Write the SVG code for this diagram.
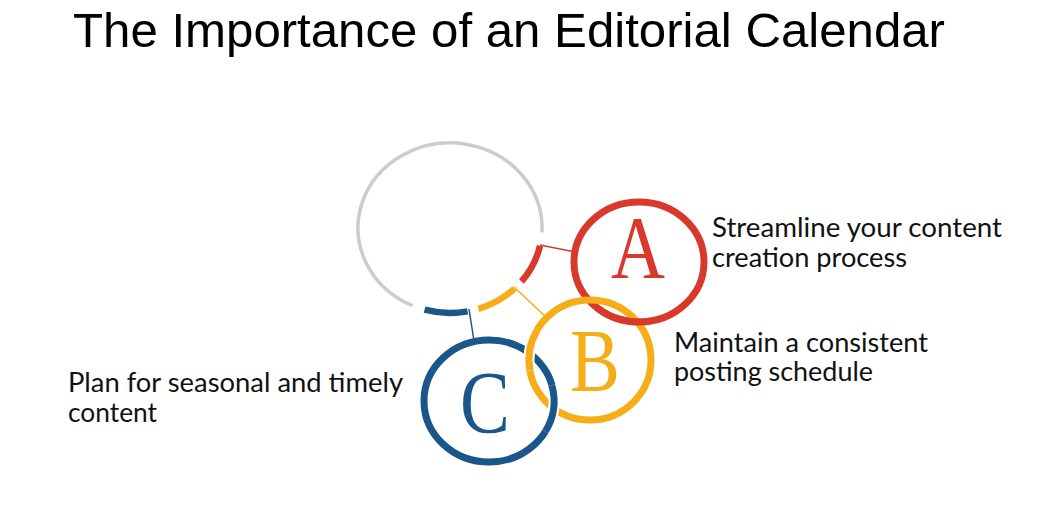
<svg xmlns="http://www.w3.org/2000/svg" width="1062" height="528" viewBox="0 0 1062 528">
<style>
.title{font-family:"Liberation Sans",Arial,sans-serif;font-size:49px;fill:#000}
.lbl{font-family:Lato,"Open Sans",sans-serif;font-size:26px;fill:#111}
.letter{font-family:"Liberation Serif","Times New Roman",serif;font-size:88px;text-anchor:middle}
.ring{fill:none;stroke-width:7}
.seg{fill:none;stroke-width:6.5}
.con{fill:none;stroke-width:1.5}
.halo{fill:none;stroke:#fff;stroke-width:11}
</style>
<rect width="1062" height="528" fill="#ffffff"/>
<text class="title" x="73" y="47" textLength="872" lengthAdjust="spacingAndGlyphs">The Importance of an Editorial Calendar</text>

<g id="hub">
<path d="M541.9 232.4 A92 85 0 1 0 412.6 305.6" fill="none" stroke="#cccccc" stroke-width="3.5"/>
<path class="seg" d="M540 245.7 A92 85 0 0 1 521.5 281.5" stroke="#d9392b"/>
<path class="seg" d="M514.5 288.6 A92 85 0 0 1 478.4 308.8" stroke="#f5ad18"/>
<path class="seg" d="M467.6 311.4 A92 85 0 0 1 424.6 309.7" stroke="#1b5689"/>
</g>

<g id="connectors">
<line class="con" x1="540" y1="245" x2="575" y2="252" stroke="#d9392b"/>
<line class="con" x1="514" y1="287" x2="547" y2="318" stroke="#f5ad18"/>
<line class="con" x1="469" y1="309" x2="474" y2="341" stroke="#1b5689"/>
</g>

<g id="node-c">
<ellipse class="ring" cx="489" cy="401" rx="65" ry="61" stroke="#1b5689"/>
<text class="letter" transform="translate(485,432) scale(0.85,1)" fill="#1b5689">C</text>
</g>
<g id="node-a">
<ellipse class="ring" cx="639" cy="262" rx="65" ry="60" stroke="#d9392b"/>
<text class="letter" transform="translate(638,277) scale(0.85,1)" fill="#d9392b">A</text>
</g>
<g id="node-b">
<ellipse class="ring" cx="590" cy="360" rx="61" ry="60" stroke="#f5ad18"/>
<text class="letter" transform="translate(595,390) scale(0.85,1)" fill="#f5ad18">B</text>
</g>

<g id="interlock">
<path class="halo" d="M529.9 370.4 A61 60 0 0 1 537.2 330"/>
<path class="ring" d="M529.9 370.4 A61 60 0 0 1 537.2 330" stroke="#f5ad18"/>
<path class="halo" d="M551.8 385.2 A65 61 0 0 1 545.3 431.5"/>
<path class="ring" d="M551.8 385.2 A65 61 0 0 1 545.3 431.5" stroke="#1b5689"/>
<path class="ring" d="M650.3 321.1 A65 60 0 0 1 597.2 308" stroke="#d9392b"/>
</g>

<g id="labels">
<text class="lbl" x="712" y="237" textLength="290" lengthAdjust="spacingAndGlyphs">Streamline your content</text>
<text class="lbl" x="712" y="267" textLength="195" lengthAdjust="spacingAndGlyphs">creation process</text>
<text class="lbl" x="674" y="352" textLength="254" lengthAdjust="spacingAndGlyphs">Maintain a consistent</text>
<text class="lbl" x="674" y="381" textLength="199" lengthAdjust="spacingAndGlyphs">posting schedule</text>
<text class="lbl" x="68" y="392" textLength="335" lengthAdjust="spacingAndGlyphs">Plan for seasonal and timely</text>
<text class="lbl" x="68" y="422" textLength="89" lengthAdjust="spacingAndGlyphs">content</text>
</g>
</svg>
